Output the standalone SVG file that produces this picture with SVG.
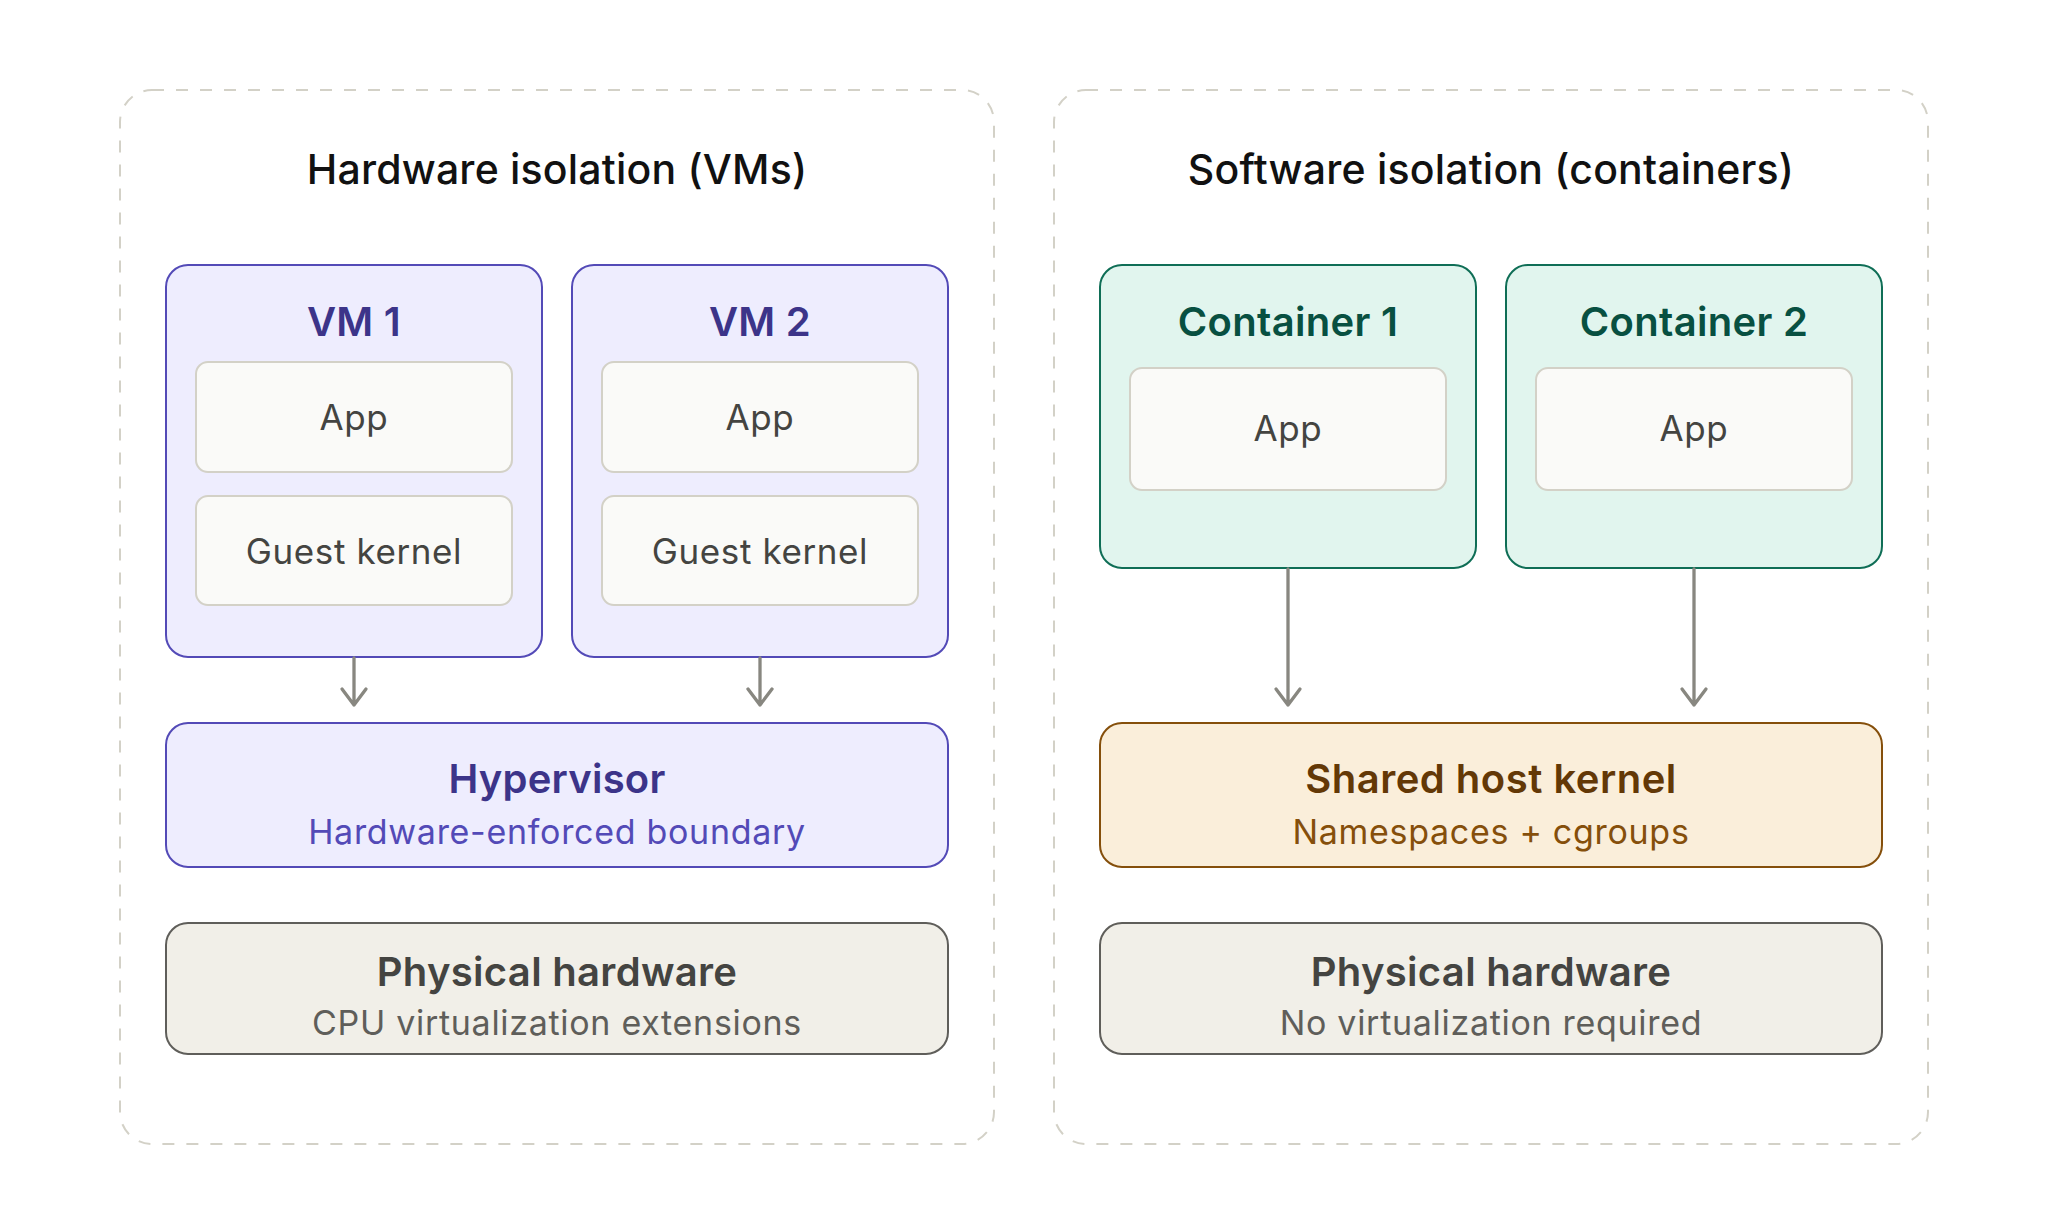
<svg xmlns="http://www.w3.org/2000/svg" width="2048" height="1205" viewBox="0 0 2048 1205">
<defs>
<style>
text{font-family:Inter,"Liberation Sans","Noto Sans",sans-serif;text-anchor:middle}
.panel{fill:#ffffff;stroke:#d3d1c7;stroke-width:2;stroke-dasharray:12 12}
.ptitle{font-size:41px;font-weight:500;fill:#111111;letter-spacing:0.2px}
.vm{fill:#eeedfe;stroke:#534ab7;stroke-width:2}
.ct{fill:#e1f5ee;stroke:#0f6e56;stroke-width:2}
.inner{fill:#fafaf8;stroke:#d3d1c7;stroke-width:2}
.hyp{fill:#eeedfe;stroke:#534ab7;stroke-width:2}
.kern{fill:#faeeda;stroke:#854f0b;stroke-width:2}
.hw{fill:#f1efe8;stroke:#5f5e5a;stroke-width:2}
.vmt{font-size:40px;font-weight:600;fill:#3c3489;letter-spacing:0.3px}
.ctt{font-size:40px;font-weight:600;fill:#085041;letter-spacing:0.3px}
.it{font-size:35px;font-weight:400;fill:#444441;letter-spacing:0.6px}
.hypt{font-size:40px;font-weight:600;fill:#3c3489;letter-spacing:0.2px}
.hyps{font-size:34px;font-weight:400;fill:#534ab7;letter-spacing:0.7px}
.kernt{font-size:40px;font-weight:600;fill:#633806;letter-spacing:0.5px}
.kerns{font-size:34px;font-weight:400;fill:#854f0b;letter-spacing:0.7px}
.hwt{font-size:40px;font-weight:600;fill:#444441;letter-spacing:0.3px}
.hws{font-size:34px;font-weight:400;fill:#5f5e5a;letter-spacing:0.7px}
.arr{fill:none;stroke:#888780;stroke-width:3.3;stroke-linecap:round;stroke-linejoin:round}
</style>
</defs>

<g id="panel-hardware">
<rect class="panel" x="120" y="90" width="874" height="1054" rx="32"/>
<text class="ptitle" x="557" y="184">Hardware isolation (VMs)</text>
</g>
<g id="panel-software">
<rect class="panel" x="1054" y="90" width="874" height="1054" rx="32"/>
<text class="ptitle" x="1491" y="184">Software isolation (containers)</text>
</g>

<g id="vm1">
<rect class="vm" x="166" y="265" width="376" height="392" rx="22"/>
<text class="vmt" x="354" y="336">VM 1</text>
<rect class="inner" x="196" y="362" width="316" height="110" rx="12"/>
<text class="it" x="354" y="430">App</text>
<rect class="inner" x="196" y="496" width="316" height="109" rx="12"/>
<text class="it" x="354" y="564">Guest kernel</text>
</g>
<g id="vm2">
<rect class="vm" x="572" y="265" width="376" height="392" rx="22"/>
<text class="vmt" x="760" y="336">VM 2</text>
<rect class="inner" x="602" y="362" width="316" height="110" rx="12"/>
<text class="it" x="760" y="430">App</text>
<rect class="inner" x="602" y="496" width="316" height="109" rx="12"/>
<text class="it" x="760" y="564">Guest kernel</text>
</g>
<g id="hypervisor">
<rect class="hyp" x="166" y="723" width="782" height="144" rx="22"/>
<text class="hypt" x="557" y="793">Hypervisor</text>
<text class="hyps" x="557" y="844">Hardware-enforced boundary</text>
</g>
<g id="hw-left">
<rect class="hw" x="166" y="923" width="782" height="131" rx="22"/>
<text class="hwt" x="557" y="986">Physical hardware</text>
<text class="hws" x="557" y="1035">CPU virtualization extensions</text>
</g>

<g id="container1">
<rect class="ct" x="1100" y="265" width="376" height="303" rx="22"/>
<text class="ctt" x="1288" y="336">Container 1</text>
<rect class="inner" x="1130" y="368" width="316" height="122" rx="12"/>
<text class="it" x="1288" y="441">App</text>
</g>
<g id="container2">
<rect class="ct" x="1506" y="265" width="376" height="303" rx="22"/>
<text class="ctt" x="1694" y="336">Container 2</text>
<rect class="inner" x="1536" y="368" width="316" height="122" rx="12"/>
<text class="it" x="1694" y="441">App</text>
</g>
<g id="shared-kernel">
<rect class="kern" x="1100" y="723" width="782" height="144" rx="22"/>
<text class="kernt" x="1491" y="793">Shared host kernel</text>
<text class="kerns" x="1491" y="844">Namespaces + cgroups</text>
</g>
<g id="hw-right">
<rect class="hw" x="1100" y="923" width="782" height="131" rx="22"/>
<text class="hwt" x="1491" y="986">Physical hardware</text>
<text class="hws" x="1491" y="1035">No virtualization required</text>
</g>

<g id="connectors">
<path class="arr" d="M354 658 V705 M342 689 L354 705 L366 689"/>
<path class="arr" d="M760 658 V705 M748 689 L760 705 L772 689"/>
<path class="arr" d="M1288 569 V705 M1276 689 L1288 705 L1300 689"/>
<path class="arr" d="M1694 569 V705 M1682 689 L1694 705 L1706 689"/>
</g>
</svg>
